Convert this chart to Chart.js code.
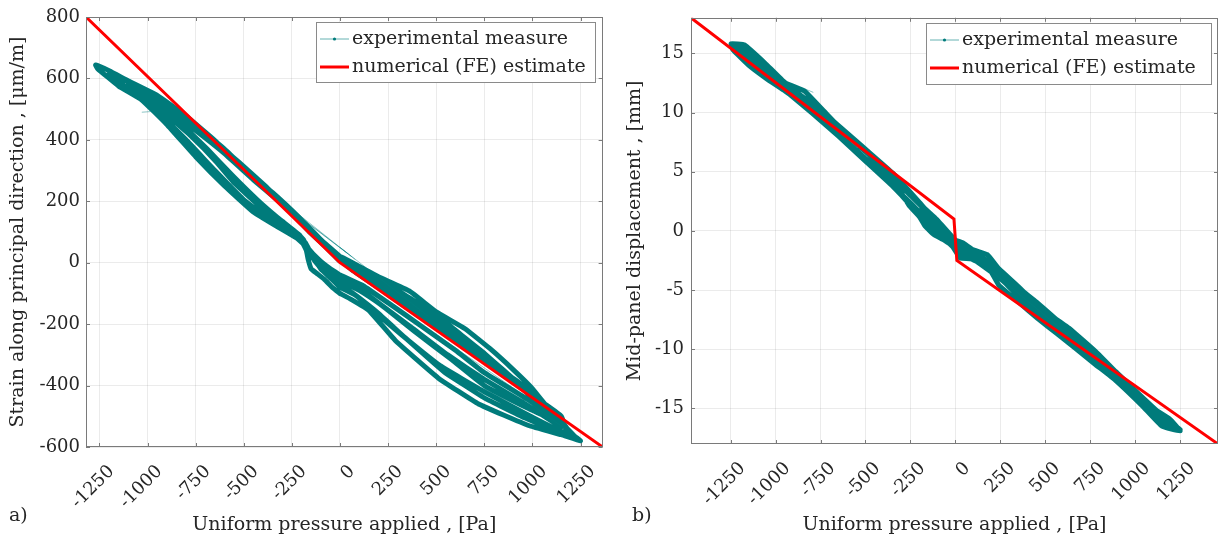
<!DOCTYPE html>
<html>
<head>
<meta charset="utf-8">
<script src="https://cdn.jsdelivr.net/npm/chart.js@4.4.0/dist/chart.umd.min.js"></script>
<style>
  html, body { margin: 0; padding: 0; background: #fff; }
  #wrap { position: relative; width: 1219px; height: 543px; overflow: hidden; }
  canvas { position: absolute; top: 0; }
  .tag { position: absolute; font-family: "DejaVu Serif"; font-size: 19px; color: #262626; }
</style>
</head>
<body>
<div id="wrap">
  <canvas id="chartA" width="610" height="543" style="left:0"></canvas>
  <canvas id="chartB" width="609" height="543" style="left:610px"></canvas>
  <div class="tag" style="left:9px;top:503px">a)</div>
  <div class="tag" style="left:632px;top:503px">b)</div>
</div>
<script>
// tick values
const pressureTicks = [-1250, -1000, -750, -500, -250, 0, 250, 500, 750, 1000, 1250];
const strainTicks = [-600, -400, -200, 0, 200, 400, 600, 800];
const dispTicks = [-15, -10, -5, 0, 5, 10, 15];

// numerical (FE) estimate
const feStrainX = [-1320, 0, 1365];
const feStrainY = [800, 0, -600];
const feDispX = [-1470, -8, 8, 1460];
const feDispY = [18, 1, -2.5, -18];

// experimental strain, loops read off panel a)
const strainN1 = [[0,20],[-100,75],[-200,140],[-350,228],[-500,305],[-650,398],[-800,478],[-950,545],[-1100,592],[-1200,625],[-1270,644],
  [-1260,632],[-1150,575],[-1030,530],[-900,450],[-750,345],[-600,250],[-450,165],[-320,115],[-200,70],[-175,40],[-165,10],[-150,-20],[-120,-35],[-80,-55],[-40,-80],[0,-100]];
const strainP1 = [[0,-100],[60,-120],[150,-155],[290,-255],[510,-375],[720,-460],[980,-530],[1150,-560],[1250,-580],
  [1220,-565],[1150,-520],[1050,-460],[950,-405],[850,-350],[750,-295],[650,-245],[550,-195],[450,-150],[350,-110],[250,-70],[150,-30],[50,5],[0,20]];
const strainN2 = [[0,15],[-120,80],[-250,165],[-400,255],[-550,340],[-700,420],[-850,490],[-1000,550],[-1120,595],[-1200,620],
  [-1180,605],[-1080,555],[-950,490],[-800,400],[-650,300],[-500,205],[-380,150],[-260,100],[-180,55],[-140,20],[-100,-20],[-40,-55],[0,-80]];
const strainP2 = [[0,-80],[80,-105],[180,-160],[320,-235],[520,-335],[750,-420],[960,-490],[1100,-535],[1200,-562],
  [1170,-530],[1100,-488],[1000,-410],[900,-348],[780,-280],[650,-215],[500,-160],[360,-92],[200,-46],[100,-12],[0,15]];
const strainN3 = [[0,10],[-150,95],[-300,195],[-450,280],[-600,370],[-750,445],[-900,515],[-1030,560],[-1100,580],
  [-1080,568],[-980,525],[-850,455],[-700,370],[-550,260],[-400,175],[-280,120],[-190,75],[-160,30],[-90,-10],[-40,-40],[0,-60]];
const strainP3 = [[0,-60],[100,-90],[220,-140],[370,-210],[560,-300],[750,-380],[950,-455],[1150,-535],
  [1120,-495],[1030,-440],[930,-390],[830,-345],[730,-300],[630,-257],[530,-213],[430,-170],[330,-127],[230,-82],[130,-40],[0,10]];
const strainN4 = [[0,5],[-150,100],[-300,190],[-450,270],[-600,355],[-750,430],[-880,490],[-1000,530],
  [-990,520],[-880,470],[-750,400],[-600,300],[-450,210],[-320,140],[-210,90],[-170,50],[-110,10],[-50,-20],[0,-40]];
const strainP4 = [[0,-40],[120,-75],[260,-135],[420,-205],[600,-285],[750,-358],[1000,-455],[1100,-505],
  [1070,-480],[980,-425],[880,-370],[780,-318],[680,-262],[580,-222],[480,-172],[380,-130],[280,-88],[180,-50],[80,-18],[0,12]];
const strainN5 = [[0,12],[-130,88],[-270,175],[-420,262],[-570,350],[-720,430],[-870,500],[-980,540],[-1050,565],
  [-1040,552],[-940,505],[-820,440],[-680,355],[-540,268],[-420,195],[-300,135],[-220,95],[-180,65],[-150,30],[-120,0],[-70,-25],[0,-50]];
const strainP5 = [[0,-50],[110,-90],[240,-150],[390,-225],[580,-315],[750,-400],[980,-475],[1120,-515],
  [1090,-492],[1000,-440],[900,-382],[800,-330],[700,-280],[600,-232],[500,-190],[400,-148],[300,-105],[200,-65],[100,-28],[0,12]];
const strainN6 = [[0,12],[-110,80],[-230,155],[-380,245],[-530,330],[-680,410],[-830,485],[-950,530],
  [-940,515],[-830,455],[-690,370],[-560,285],[-430,205],[-330,150],[-240,105],[-190,75],[-165,40],[-130,5],[-80,-30],[0,-70]];
const strainP6 = [[0,-70],[90,-110],[200,-165],[340,-245],[540,-355],[750,-440],[960,-505],[1180,-560],
  [1150,-500],[1060,-458],[960,-412],[860,-368],[760,-325],[660,-282],[560,-238],[460,-195],[360,-152],[260,-108],[160,-65],[60,-22],[0,12]];
const strainThin = [
  [[-450,265],[40,30]], [[-400,240],[60,20]], [[-300,200],[80,10]],
  [[0,50],[460,-175]], [[110,-65],[910,-412]], [[300,-150],[1180,-545]], [[-1030,490],[-985,492]]
];

// experimental mid-panel displacement, loops read off panel b)
const dispN1 = [[0,-0.8],[-60,0.2],[-120,0.6],[-170,1.3],[-190,2.1],[-276,3.7],[-406,5.6],[-514,7.0],[-622,8.4],[-730,10.1],[-838,11.8],[-946,12.5],[-1054,14.1],[-1172,15.7],[-1248,15.8],
  [-1237,15.3],[-1150,14.0],[-1054,12.9],[-946,11.8],[-838,10.6],[-730,9.2],[-622,7.8],[-514,6.3],[-406,4.9],[-300,3.2],[-255,2.1],[-200,1.2],[-168,0.4],[-120,-0.3],[-60,-0.8],[-17,-1.3],[26,-2.3]];
const dispP1 = [[26,-2.3],[100,-2.4],[177,-2.9],[242,-4.6],[350,-6.0],[458,-7.4],[566,-8.7],[674,-10.0],[780,-11.3],[889,-12.6],[1041,-14.8],[1149,-16.5],[1250,-16.9],
  [1192,-15.9],[1100,-15.0],[1019,-14.1],[889,-12.2],[780,-10.5],[674,-8.9],[566,-7.6],[458,-6.3],[350,-4.7],[242,-3.2],[177,-2.0],[100,-1.6],[40,-1.0],[0,-0.8]];
const dispN2 = [[0,-0.8],[-80,0.3],[-200,2.4],[-350,4.9],[-500,6.9],[-650,8.9],[-800,10.8],[-950,12.3],[-1100,14.4],[-1200,15.5],
  [-1180,15.0],[-1050,13.4],[-900,11.5],[-750,9.6],[-600,7.5],[-450,5.4],[-300,3.1],[-200,1.6],[-130,0.2],[-80,-0.6],[-20,-1.0],[30,-2.0]];
const dispP2 = [[30,-2.0],[150,-2.8],[300,-4.6],[450,-6.8],[600,-8.9],[750,-10.8],[900,-12.5],[1050,-14.4],[1180,-16.4],[1230,-16.8],
  [1150,-15.6],[1000,-13.7],[850,-11.6],[700,-9.6],[550,-7.5],[400,-5.4],[250,-3.6],[120,-1.8],[0,-0.8]];
const dispN3 = [[0,-0.8],[-100,0.9],[-250,3.0],[-400,5.3],[-550,7.4],[-700,9.5],[-850,11.3],[-1000,13.2],[-1150,15.0],[-1230,15.6],
  [-1100,13.7],[-950,11.9],[-800,10.0],[-650,8.0],[-500,5.9],[-350,3.8],[-230,1.9],[-150,0.8],[-60,-0.5],[20,-1.6]];
const dispP3 = [[20,-1.6],[120,-2.6],[270,-4.3],[420,-6.6],[570,-8.4],[720,-10.3],[870,-12.1],[1020,-14.3],[1120,-15.9],[1240,-16.7],
  [1180,-16.0],[1050,-14.2],[900,-12.0],[750,-10.0],[600,-8.0],[450,-6.0],[300,-4.2],[150,-2.4],[0,-0.8]];
const dispN4 = [[0,-0.8],[-90,0.6],[-230,2.7],[-380,5.1],[-530,7.1],[-680,9.2],[-830,11.1],[-980,12.8],[-1130,14.8],[-1200,15.6],
  [-1120,14.2],[-970,12.2],[-820,10.3],[-670,8.3],[-520,6.2],[-370,4.2],[-240,2.0],[-160,1.0],[-100,0.5],[-50,-0.2],[10,-1.2]];
const dispP4 = [[10,-1.2],[130,-2.3],[280,-4.0],[430,-6.1],[580,-8.1],[730,-10.0],[880,-12.0],[1030,-14.0],[1150,-15.8],[1250,-16.8],
  [1200,-16.2],[1080,-14.7],[930,-12.5],[780,-10.2],[630,-8.2],[480,-6.6],[330,-4.7],[180,-2.7],[60,-1.3],[0,-0.8]];
const dispThin = [[[-838,12.0],[-790,11.7]], [[-1150,14.6],[-700,9.3]], [[200,-3.4],[900,-12.2]]];

const TEAL = '#007b7b';
const FONT = '"DejaVu Serif"';
const pts = (list) => list.map(([x, y]) => ({ x, y }));
const zip = (xs, ys) => xs.map((x, i) => ({ x, y: ys[i] }));

function buildDatasets(loops, thin, feX, feY) {
  const sets = [
    { label: 'numerical (FE) estimate', data: zip(feX, feY), borderColor: '#ff0000', borderWidth: 3, order: 0, tension: 0,
      legendSample: { color: '#ff0000', width: 3 } },
    { label: 'experimental measure', data: pts(loops.flat()), borderColor: TEAL, borderWidth: 5, order: 2, tension: 0.1,
      borderJoinStyle: 'round', borderCapStyle: 'round',
      legendSample: { color: 'rgba(0,128,128,0.6)', width: 1, dot: TEAL } }
  ];
  thin.forEach(seg => sets.push({ label: '', data: pts(seg), borderColor: 'rgba(0,128,128,0.45)', borderWidth: 1, order: 1 }));
  return sets;
}

const framePlugin = {
  id: 'frame',
  afterDatasetsDraw(chart) {
    const { ctx, chartArea: a, scales: { x, y } } = chart;
    ctx.save();
    ctx.strokeStyle = '#7a7a7a';
    ctx.lineWidth = 1;
    ctx.beginPath();
    x.ticks.forEach(t => {
      const px = Math.round(x.getPixelForValue(t.value)) + 0.5;
      ctx.moveTo(px, a.bottom); ctx.lineTo(px, a.bottom - 4);
      ctx.moveTo(px, a.top); ctx.lineTo(px, a.top + 4);
    });
    y.ticks.forEach(t => {
      const py = Math.round(y.getPixelForValue(t.value)) + 0.5;
      ctx.moveTo(a.left, py); ctx.lineTo(a.left + 4, py);
      ctx.moveTo(a.right, py); ctx.lineTo(a.right - 4, py);
    });
    ctx.stroke();
    ctx.strokeRect(Math.round(a.left) + 0.5, Math.round(a.top) + 0.5, Math.round(a.width) - 1, Math.round(a.height) - 1);
    ctx.restore();
  }
};

const boxLegend = {
  id: 'boxLegend',
  afterDraw(chart, args, opts) {
    const { ctx, chartArea: a } = chart;
    const left = Math.round(a.right - opts.right - opts.width);
    const top = Math.round(a.top + opts.top);
    ctx.save();
    ctx.fillStyle = '#fff';
    ctx.fillRect(left, top, opts.width, opts.height);
    ctx.strokeStyle = '#8a8a8a';
    ctx.lineWidth = 1;
    ctx.strokeRect(left + 0.5, top + 0.5, opts.width, opts.height);
    ctx.font = '19px ' + FONT;
    ctx.textBaseline = 'middle';
    const shown = chart.data.datasets.filter(d => d.legendSample).reverse();
    shown.forEach((d, i) => {
      const cy = top + opts.firstRow + i * opts.rowGap;
      const s = d.legendSample;
      ctx.strokeStyle = s.color;
      ctx.lineWidth = s.width;
      ctx.beginPath();
      ctx.moveTo(left + 4, cy); ctx.lineTo(left + 33, cy);
      ctx.stroke();
      if (s.dot) {
        ctx.fillStyle = s.dot;
        ctx.beginPath(); ctx.arc(left + 18.5, cy, 1.6, 0, Math.PI * 2); ctx.fill();
      }
      ctx.fillStyle = '#262626';
      ctx.fillText(d.label, left + 36, cy);
    });
    ctx.restore();
  }
};

function makeChart(id, c) {
  const grid = { color: 'rgba(0,0,0,0.08)', drawTicks: false };
  return new Chart(document.getElementById(id), {
    type: 'line',
    data: { datasets: c.datasets },
    options: {
      responsive: false,
      animation: false,
      devicePixelRatio: 1,
      layout: { padding: c.padding },
      elements: { point: { radius: 0 }, line: { tension: 0 } },
      plugins: { legend: { display: false }, tooltip: { enabled: false }, boxLegend: c.legend },
      scales: {
        x: {
          type: 'linear', min: c.xMin, max: c.xMax,
          afterBuildTicks: s => { s.ticks = pressureTicks.map(v => ({ value: v })); },
          afterFit: s => { s.height = c.xHeight; },
          grid, border: { display: false },
          ticks: { autoSkip: false, minRotation: 45, maxRotation: 45, labelOffset: 12, padding: 14,
            color: '#262626', font: { family: FONT, size: 18 }, callback: v => String(v) },
          title: { display: true, text: 'Uniform pressure applied , [Pa]', color: '#262626',
            font: { family: FONT, size: 19 }, padding: { top: 0, bottom: 7 } }
        },
        y: {
          type: 'linear', min: c.yMin, max: c.yMax,
          afterBuildTicks: s => { s.ticks = c.yTicks.map(v => ({ value: v })); },
          afterFit: s => { s.width = c.yWidth; },
          grid, border: { display: false },
          ticks: { padding: c.yPad, color: '#262626', font: { family: FONT, size: 18 }, callback: v => String(v) },
          title: { display: true, text: c.yTitle, color: '#262626',
            font: { family: FONT, size: 19 }, padding: { top: c.yTitlePad, bottom: 0 } }
        }
      }
    },
    plugins: [framePlugin, boxLegend]
  });
}

makeChart('chartA', {
  datasets: buildDatasets([strainN1, strainP1, strainN2, strainP2, strainN3, strainP3, strainN4, strainP4, strainN5, strainP5, strainN6, strainP6],
    strainThin, feStrainX, feStrainY),
  padding: { top: 17, right: 5, left: 0, bottom: 0 },
  xMin: -1320, xMax: 1365, yMin: -600, yMax: 800,
  yTicks: strainTicks, xHeight: 96, yWidth: 86, yPad: 6, yTitlePad: 7,
  yTitle: 'Strain along principal direction , [μm/m]',
  legend: { right: 8, top: 5, width: 279, height: 60, firstRow: 17, rowGap: 28 }
});

makeChart('chartB', {
  datasets: buildDatasets([dispN1, dispP1, dispN2, dispP2, dispN3, dispP3, dispN4, dispP4], dispThin, feDispX, feDispY),
  padding: { top: 8, right: 1, left: 0, bottom: 0 },
  xMin: -1470, xMax: 1460, yMin: -18, yMax: 18,
  yTicks: dispTicks, xHeight: 99, yWidth: 81, yPad: 7, yTitlePad: 14,
  yTitle: 'Mid-panel displacement , [mm]',
  legend: { right: 7, top: 5, width: 285, height: 61, firstRow: 17, rowGap: 28 }
});
</script>
</body>
</html>
